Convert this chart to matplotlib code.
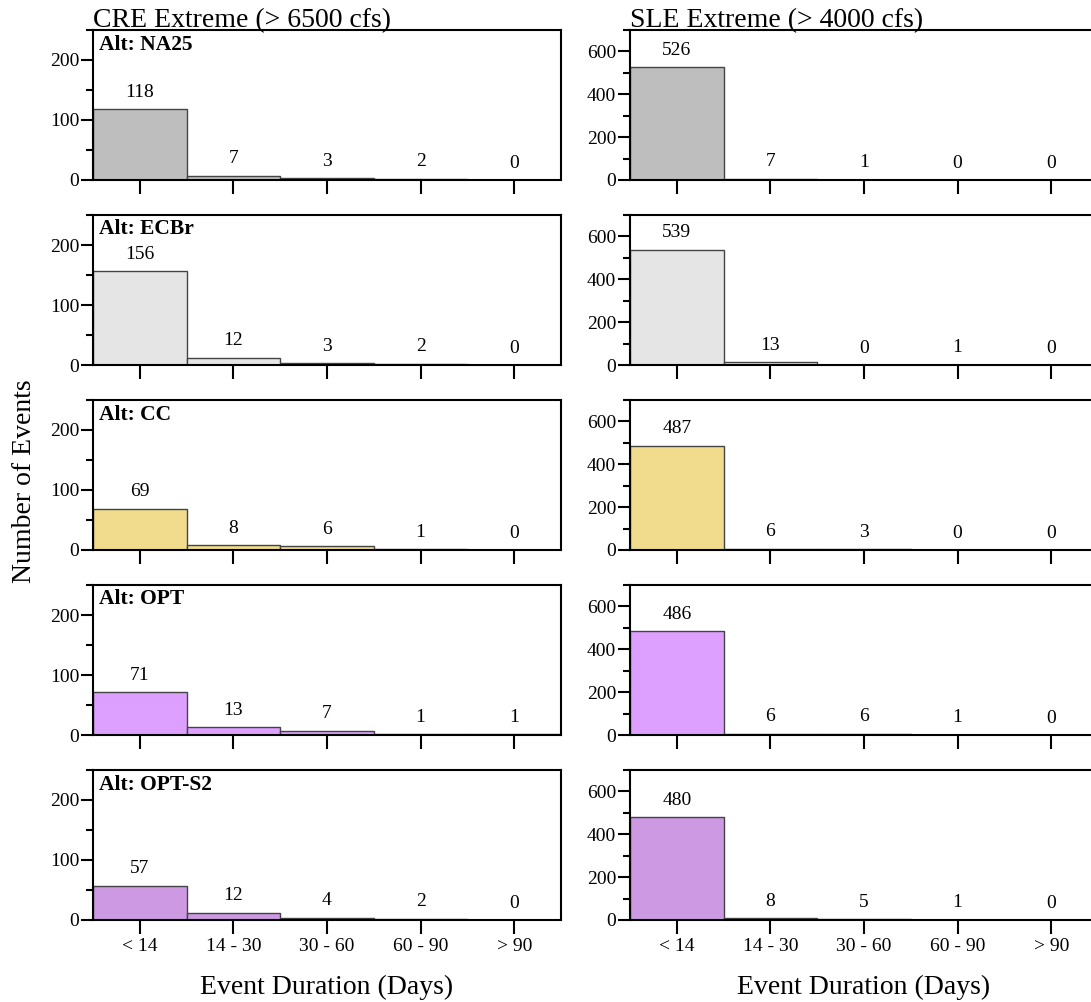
import matplotlib
matplotlib.use("Agg")
import matplotlib.pyplot as plt
from matplotlib.ticker import MultipleLocator

plt.rcParams['font.family'] = ['Liberation Serif', 'DejaVu Serif']

# duration bins
cats = ["< 14", "14 - 30", "30 - 60", "60 - 90", "> 90"]
alts = ["NA25", "ECBr", "CC", "OPT", "OPT-S2"]
colors = ["#bebebe", "#e5e5e5", "#f0dc8c", "#dda0ff", "#cc99e2"]

# number of events per bin
cre_counts = [
    [118, 7, 3, 2, 0],
    [156, 12, 3, 2, 0],
    [69, 8, 6, 1, 0],
    [71, 13, 7, 1, 1],
    [57, 12, 4, 2, 0],
]
sle_counts = [
    [526, 7, 1, 0, 0],
    [539, 13, 0, 1, 0],
    [487, 6, 3, 0, 0],
    [486, 6, 6, 1, 0],
    [480, 8, 5, 1, 0],
]

W, H = 1091, 1002
fig = plt.figure(figsize=(W / 100, H / 100), dpi=100)

cols = [
    dict(left=93, counts=cre_counts, ylim=250, major=100, minor=50,
         title="CRE Extreme (> 6500 cfs)"),
    dict(left=630, counts=sle_counts, ylim=700, major=200, minor=100,
         title="SLE Extreme (> 4000 cfs)"),
]
ax_w, ax_h, top0, step = 468, 150, 30, 185

for c, col in enumerate(cols):
    for r in range(5):
        top = top0 + step * r
        ax = fig.add_axes([col['left'] / W, 1 - (top + ax_h) / H, ax_w / W, ax_h / H])
        vals = col['counts'][r]
        x = range(len(cats))
        ax.bar(x, vals, width=1.0, color=colors[r], edgecolor='#444444', linewidth=1.0)
        for xi, v in zip(x, vals):
            ax.annotate(str(v), (xi, v), xytext=(0, 6), textcoords='offset points',
                        ha='center', va='bottom', fontsize=14)
        ax.set_xlim(-0.5, 4.5)
        ax.set_ylim(0, col['ylim'])
        ax.yaxis.set_major_locator(MultipleLocator(col['major']))
        ax.yaxis.set_minor_locator(MultipleLocator(col['minor']))
        ax.set_xticks(list(x))
        for s in ax.spines.values():
            s.set_linewidth(1.5)
        ax.tick_params(axis='x', direction='out', length=10, width=1.5, labelsize=14, pad=3)
        ax.tick_params(axis='y', which='major', direction='out', length=9, width=1.5,
                       labelsize=14, pad=1)
        ax.tick_params(axis='y', which='minor', direction='out', length=5, width=1.5)
        if r == 4:
            ax.set_xticklabels(cats)
            ax.set_xlabel("Event Duration (Days)", fontsize=20, labelpad=14)
        else:
            ax.set_xticklabels([])
        if c == 0:
            ax.text(0.013, 0.97, "Alt: " + alts[r], transform=ax.transAxes,
                    ha='left', va='top', fontsize=15.5, fontweight='bold')
        if r == 0:
            ax.text(0.0, 1.02, col['title'], transform=ax.transAxes,
                    ha='left', va='baseline', fontsize=20)

fig.text(25 / W, 1 - 481 / H, "Number of Events", rotation=90, ha='center', va='center',
         fontsize=20)

fig.savefig("out.png", dpi=100)
